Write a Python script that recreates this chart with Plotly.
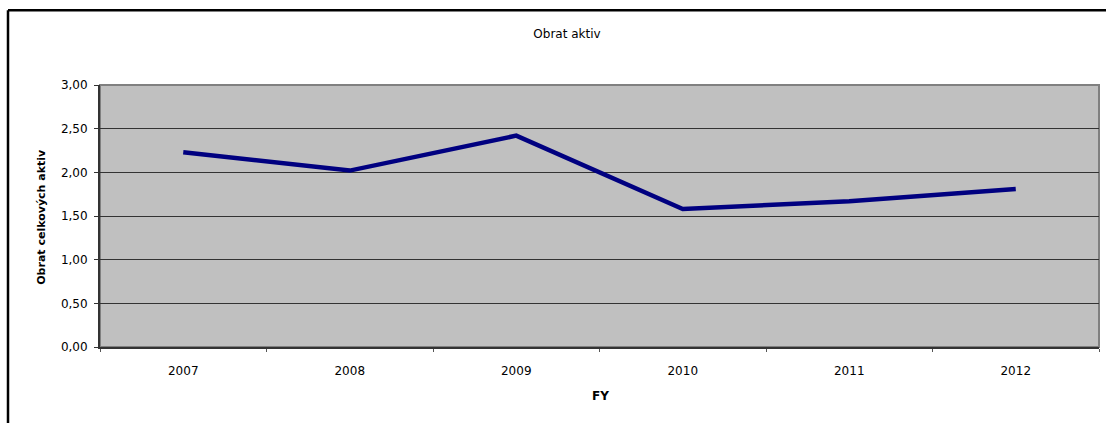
import plotly.graph_objects as go

years = ["2007", "2008", "2009", "2010", "2011", "2012"]
obrat = [2.23, 2.02, 2.42, 1.58, 1.67, 1.81]
y_ticks = [0, 0.5, 1.0, 1.5, 2.0, 2.5, 3.0]
y_tick_text = ["0,00", "0,50", "1,00", "1,50", "2,00", "2,50", "3,00"]

W, H = 1106, 423
L, R, T, B = 100, 1099, 85, 347.5

def px_x(x):
    return (x - L) / (R - L)

def px_y(y):
    return (B - y) / (B - T)

fig = go.Figure()
fig.add_trace(go.Scatter(
    x=years, y=obrat, mode="lines",
    line=dict(color="#000080", width=4.5),
    showlegend=False, hoverinfo="skip",
))

font = "DejaVu Sans, Arial, sans-serif"
fig.update_layout(
    width=W, height=H,
    margin=dict(l=L, r=W - R, t=T, b=H - B),
    paper_bgcolor="white",
    plot_bgcolor="#c0c0c0",
    font=dict(family=font, size=12, color="black"),
    showlegend=False,
    title=dict(text="Obrat aktiv", x=567 / W, xanchor="center",
               y=1 - 34 / H, yanchor="middle", yref="container",
               font=dict(family=font, size=12, color="black")),
    xaxis=dict(type="category", tickson="boundaries", showgrid=False,
               showline=True, linecolor="#333333", linewidth=2,
               ticks="outside", ticklen=3, tickcolor="#555555",
               tickfont=dict(family=font, size=12), ticklabelstandoff=12,
               range=[-0.5, 5.5], fixedrange=True),
    yaxis=dict(range=[0, 3], tickvals=y_ticks, ticktext=y_tick_text,
               showgrid=True, gridcolor="#333333", gridwidth=1,
               showline=True, linecolor="#333333", linewidth=2,
               ticks="outside", ticklen=4, tickcolor="#333333",
               tickfont=dict(family=font, size=12), ticklabelstandoff=4,
               zeroline=False, fixedrange=True),
    annotations=[
        dict(text="<b>Obrat celkových aktiv</b>", xref="paper", yref="paper",
             x=px_x(42), y=px_y(217), xanchor="center", yanchor="middle",
             textangle=-90, showarrow=False,
             font=dict(family=font, size=11, color="black")),
        dict(text="<b>FY</b>", xref="paper", yref="paper",
             x=px_x(600), y=px_y(397), xanchor="center", yanchor="middle",
             showarrow=False, font=dict(family=font, size=12, color="black")),
    ],
    shapes=[
        dict(type="rect", xref="paper", yref="paper", x0=0, y0=0, x1=1, y1=1,
             line=dict(color="#808080", width=2), layer="below"),
        dict(type="line", xref="paper", yref="paper",
             x0=px_x(8), y0=px_y(10), x1=px_x(1120), y1=px_y(10),
             line=dict(color="black", width=2.5)),
        dict(type="line", xref="paper", yref="paper",
             x0=px_x(8), y0=px_y(10), x1=px_x(8), y1=px_y(440),
             line=dict(color="black", width=2.5)),
    ],
)

fig.write_html("out.html")
